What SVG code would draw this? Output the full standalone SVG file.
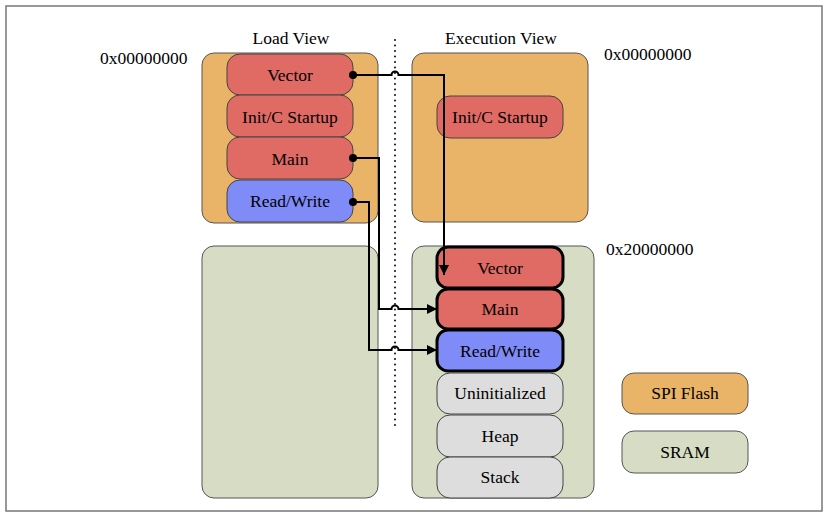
<svg xmlns="http://www.w3.org/2000/svg" width="830" height="519" viewBox="0 0 830 519">
<defs>
<marker id="arr" viewBox="0 0 10 10" refX="10" refY="5" markerWidth="11" markerHeight="10" markerUnits="userSpaceOnUse" orient="auto">
<path d="M0,0 L10,5 L0,10 Z" fill="#000"/>
</marker>
<marker id="dot" viewBox="0 0 10 10" refX="5" refY="5" markerWidth="8" markerHeight="8" markerUnits="userSpaceOnUse">
<circle cx="5" cy="5" r="5" fill="#000"/>
</marker>
</defs>
<style>
text{font-family:"Liberation Serif","Times New Roman",serif;font-size:17.5px;fill:#000;}
.c{text-anchor:middle;}
.flash{fill:#E9B467;stroke:#555;stroke-width:1;}
.sram{fill:#D7DDC4;stroke:#555;stroke-width:1;}
.red{fill:#DF6B64;stroke:#444;stroke-width:1;}
.blue{fill:#7F8BF6;stroke:#444;stroke-width:1;}
.gray{fill:#DDDDDD;stroke:#444;stroke-width:1;}
.thick{stroke:#000;stroke-width:3;}
.conn{fill:none;stroke:#000;stroke-width:2;}
</style>
<rect x="6" y="6" width="816" height="505" fill="#fff" stroke="#777" stroke-width="1.5"/>
<line x1="395" y1="40" x2="395" y2="430" stroke="#222" stroke-width="2.2" stroke-dasharray="0 5.5" stroke-linecap="round"/>
<g id="labels">
<text class="c" x="291" y="44">Load View</text>
<text class="c" x="501" y="44">Execution View</text>
<text x="100" y="64">0x00000000</text>
<text x="604" y="60">0x00000000</text>
<text x="606" y="255">0x20000000</text>
</g>
<g id="load-flash"><rect class="flash" x="202" y="53" width="176" height="170" rx="12"/></g>
<g id="load-sram"><rect class="sram" x="202" y="246" width="176" height="252" rx="12"/></g>
<g id="exec-flash"><rect class="flash" x="412" y="53" width="176" height="169" rx="12"/></g>
<g id="exec-sram"><rect class="sram" x="412" y="246" width="182" height="252" rx="12"/></g>
<g id="load-vector"><rect class="red" x="227" y="54" width="126" height="41" rx="13"/><text class="c" x="290" y="81">Vector</text></g>
<g id="load-init"><rect class="red" x="227" y="95" width="126" height="42" rx="13"/><text class="c" x="290" y="123">Init/C Startup</text></g>
<g id="load-main"><rect class="red" x="227" y="137" width="126" height="42" rx="13"/><text class="c" x="290" y="165">Main</text></g>
<g id="load-rw"><rect class="blue" x="227" y="180" width="126" height="42" rx="13"/><text class="c" x="290" y="207">Read/Write</text></g>
<g id="exec-init"><rect class="red" x="437" y="96" width="126" height="42" rx="13"/><text class="c" x="500" y="123">Init/C Startup</text></g>
<g id="exec-vector"><rect class="red thick" x="437" y="247" width="126" height="41" rx="11"/><text class="c" x="500" y="274">Vector</text></g>
<g id="exec-main"><rect class="red thick" x="437" y="289" width="126" height="40" rx="11"/><text class="c" x="500" y="315">Main</text></g>
<g id="exec-rw"><rect class="blue thick" x="437" y="330" width="126" height="41" rx="11"/><text class="c" x="500" y="357">Read/Write</text></g>
<g id="exec-uninit"><rect class="gray" x="437" y="373" width="126" height="41" rx="13"/><text class="c" x="500" y="399">Uninitialized</text></g>
<g id="exec-heap"><rect class="gray" x="437" y="415" width="126" height="42" rx="13"/><text class="c" x="500" y="442">Heap</text></g>
<g id="exec-stack"><rect class="gray" x="437" y="457" width="126" height="41" rx="13"/><text class="c" x="500" y="483">Stack</text></g>
<g id="legend-flash"><rect class="flash" x="622" y="373" width="126" height="41" rx="12"/><text class="c" x="685" y="399">SPI Flash</text></g>
<g id="legend-sram"><rect class="sram" x="622" y="431" width="126" height="42" rx="12"/><text class="c" x="685" y="458">SRAM</text></g>
<g id="connectors">
<path class="conn" marker-start="url(#dot)" marker-end="url(#arr)" d="M353,75 H391.5 A3.5,3.5 0 0 1 398.5,75 H444 V275"/>
<path class="conn" marker-start="url(#dot)" marker-end="url(#arr)" d="M353,158 H379 V309 H391.5 A3.5,3.5 0 0 1 398.5,309 H437"/>
<path class="conn" marker-start="url(#dot)" marker-end="url(#arr)" d="M353,202 H369 V350 H391.5 A3.5,3.5 0 0 1 398.5,350 H437"/>
</g>
</svg>
